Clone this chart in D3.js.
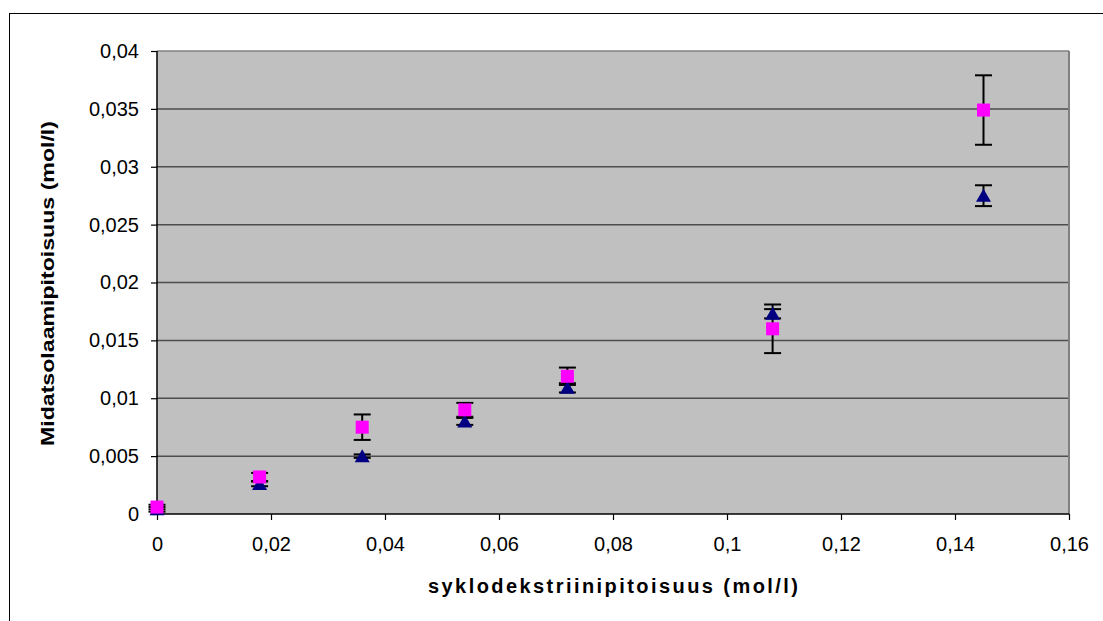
<!DOCTYPE html>
<html>
<head>
<meta charset="utf-8">
<script src="https://cdn.jsdelivr.net/npm/d3@7"></script>
<style>
  body { margin: 0; background: #fff; }
  text { font-family: "Liberation Sans", Arial, sans-serif; }
</style>
</head>
<body>
<div id="chart"></div>
<script>
// data
const xValues = [0, 0.018, 0.036, 0.054, 0.072, 0.108, 0.145];
const triValues = [0.0004, 0.0026, 0.0050, 0.0080, 0.0109, 0.0173, 0.0275];
const triErrors = [0.0002, 0.0002, 0.00015, 0.0003, 0.0004, 0.0004, 0.0009];
const sqValues = [0.0006, 0.0032, 0.0075, 0.0090, 0.0119, 0.0160, 0.0349];
const sqErrors = [0.0002, 0.00035, 0.0011, 0.0006, 0.00075, 0.0021, 0.0030];
const xTicks = [0, 0.02, 0.04, 0.06, 0.08, 0.1, 0.12, 0.14, 0.16];
const yTicks = [0, 0.005, 0.01, 0.015, 0.02, 0.025, 0.03, 0.035, 0.04];
const xTitle = "syklodekstriinipitoisuus (mol/l)";
const yTitle = "Midatsolaamipitoisuus (mol/l)";

const width = 1103, height = 621;
const plot = { left: 157, top: 51, right: 1069, bottom: 514 };

const svg = d3.select("#chart").append("svg")
  .attr("width", width)
  .attr("height", height);

// outer chart border
svg.append("rect")
  .attr("x", 9.5).attr("y", 13.5)
  .attr("width", 1200).attr("height", 700)
  .attr("fill", "#fff").attr("stroke", "#000").attr("stroke-width", 1);

const x = d3.scaleLinear().domain([0, 0.16]).range([plot.left, plot.right]);
const y = d3.scaleLinear().domain([0, 0.04]).range([plot.bottom, plot.top]);

const fmt = d => String(+d.toFixed(3)).replace(".", ",");

// plot background
svg.append("rect")
  .attr("x", plot.left).attr("y", plot.top)
  .attr("width", plot.right - plot.left).attr("height", plot.bottom - plot.top)
  .attr("fill", "#c0c0c0");

// gridlines
svg.append("g")
  .selectAll("line")
  .data(yTicks.slice(1))
  .join("line")
  .attr("x1", plot.left).attr("x2", plot.right)
  .attr("y1", d => y(d)).attr("y2", d => y(d))
  .attr("stroke", d => d === 0.04 ? "#808080" : "#4d4d4d")
  .attr("stroke-width", 1.5);

// right border
svg.append("line")
  .attr("x1", plot.right).attr("x2", plot.right)
  .attr("y1", plot.top).attr("y2", plot.bottom)
  .attr("stroke", "#808080").attr("stroke-width", 2);

// axes
const xAxis = d3.axisBottom(x).tickValues(xTicks).tickFormat(fmt).tickSize(6).tickPadding(17);
const yAxis = d3.axisLeft(y).tickValues(yTicks).tickFormat(fmt).tickSize(6).tickPadding(12);

const gx = svg.append("g")
  .attr("transform", `translate(0,${plot.bottom})`)
  .call(xAxis);
const gy = svg.append("g")
  .attr("transform", `translate(${plot.left},0)`)
  .call(yAxis);

[gx, gy].forEach(g => {
  g.select(".domain").attr("stroke", "#000").attr("stroke-width", 1.5);
  g.selectAll(".tick line").attr("stroke", "#000").attr("stroke-width", 1.2);
  g.selectAll(".tick text")
    .attr("font-family", "Liberation Sans, Arial, sans-serif")
    .attr("font-size", 20)
    .attr("fill", "#000");
});
gy.select(".domain").attr("d", `M0,${plot.top}V${plot.bottom}`);
gx.select(".domain").attr("d", `M${plot.left},0H${plot.right}`);

// axis titles
svg.append("text")
  .attr("x", 613).attr("y", 593)
  .attr("text-anchor", "middle")
  .attr("font-weight", "bold")
  .attr("font-size", 20)
  .attr("textLength", 370)
  .attr("lengthAdjust", "spacing")
  .text(xTitle);

svg.append("text")
  .attr("transform", `translate(54,${(plot.top + plot.bottom) / 2 + 1}) rotate(-90)`)
  .attr("text-anchor", "middle")
  .attr("font-weight", "bold")
  .attr("font-size", 19)
  .attr("textLength", 325)
  .attr("lengthAdjust", "spacingAndGlyphs")
  .text(yTitle);

// series
const triData = xValues.map((d, i) => ({ x: d, y: triValues[i], e: triErrors[i] }));
const sqData = xValues.map((d, i) => ({ x: d, y: sqValues[i], e: sqErrors[i] }));

function errorBars(data) {
  const g = svg.append("g").attr("stroke", "#000").attr("stroke-width", 2);
  g.selectAll("line.v")
    .data(data)
    .join("line")
    .attr("class", "v")
    .attr("x1", d => x(d.x)).attr("x2", d => x(d.x))
    .attr("y1", d => y(d.y - d.e)).attr("y2", d => y(d.y + d.e));
  g.selectAll("line.top")
    .data(data)
    .join("line")
    .attr("class", "top")
    .attr("x1", d => x(d.x) - 8.5).attr("x2", d => x(d.x) + 8.5)
    .attr("y1", d => y(d.y + d.e)).attr("y2", d => y(d.y + d.e));
  g.selectAll("line.bot")
    .data(data)
    .join("line")
    .attr("class", "bot")
    .attr("x1", d => x(d.x) - 8.5).attr("x2", d => x(d.x) + 8.5)
    .attr("y1", d => y(d.y - d.e)).attr("y2", d => y(d.y - d.e));
}

errorBars(triData);
errorBars(sqData);

svg.append("g")
  .selectAll("path")
  .data(triData)
  .join("path")
  .attr("d", d => {
    const cx = x(d.x), cy = y(d.y);
    return `M${cx},${cy - 7}L${cx + 7.5},${cy + 6}L${cx - 7.5},${cy + 6}Z`;
  })
  .attr("fill", "#000080");

svg.append("g")
  .selectAll("rect")
  .data(sqData)
  .join("rect")
  .attr("x", d => x(d.x) - 6.5)
  .attr("y", d => y(d.y) - 6.5)
  .attr("width", 13).attr("height", 13)
  .attr("fill", "#ff00ff");
</script>
</body>
</html>
